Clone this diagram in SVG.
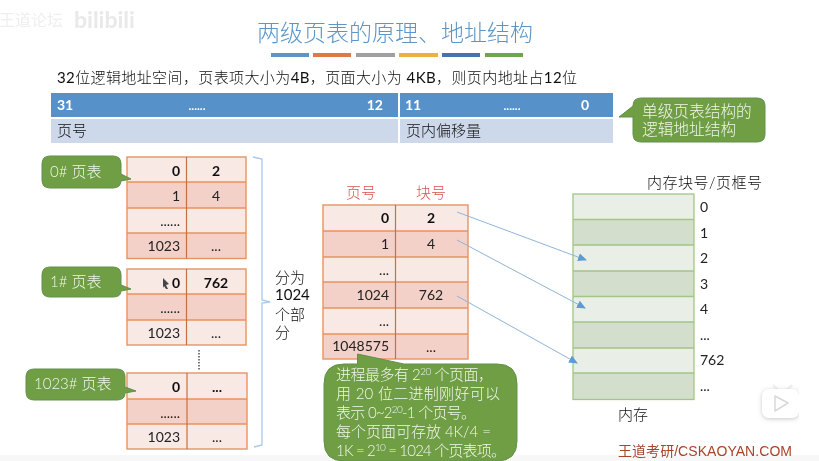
<svg xmlns="http://www.w3.org/2000/svg" width="819" height="461" viewBox="0 0 819 461">
<style>
text{font-family:"Lato","Noto Sans CJK SC",sans-serif;font-size:14px;fill:#222}
.cj{font-weight:300;font-size:15px;fill:#111}
.l{font-weight:400}
.b{font-weight:700;fill:#111}
.m{text-anchor:middle}
.e{text-anchor:end}
.w{fill:#f2f6ec;font-weight:300;font-size:15px}
.wb{fill:#fff;font-weight:700}
.red{fill:#d9534f;font-size:15px;font-weight:300}
.g{fill:#6f9e45;stroke:#62904a;stroke-width:1}
.r1{fill:#f8e9e5}
.r2{fill:#f3d1c8}
.tb{fill:none;stroke:#e8935f;stroke-width:1.4}
.tl{stroke:#e8935f;stroke-width:1.4}
.tv{stroke:#c8703c;stroke-width:1.2}
.m1{fill:#e9efe6}
.m2{fill:#d3dfcc}
.ml{stroke:#a3c585;stroke-width:1.3;fill:none}
.cn{stroke:#8fb4d8;stroke-width:1;fill:none;marker-end:url(#ah)}
</style>
<defs>
<marker id="ah" markerUnits="userSpaceOnUse" markerWidth="9" markerHeight="8" refX="8" refY="4" orient="auto"><path d="M0 0L9 4L0 8z" fill="#5b9bd5"/></marker>
<filter id="sh" x="-20%" y="-20%" width="140%" height="150%"><feDropShadow dx="0" dy="1" stdDeviation="2" flood-color="#999" flood-opacity=".55"/></filter>
<filter id="soft" x="0" y="0" width="100%" height="100%"><feGaussianBlur stdDeviation="0.35"/></filter>
</defs>
<rect width="819" height="461" fill="#fff"/>
<rect y="455" width="819" height="6" fill="#f7f7f7"/>
<g filter="url(#soft)">
<g id="watermark">
<text x="-1" y="26" style="font-size:16px;fill:#efefef">王道论坛</text>
<text x="74" y="28" style="font-size:23px;font-weight:700;fill:#e9e9e9">bilibili</text>
</g>
<g id="title">
<text x="395" y="41" class="m" style="font-size:23px;fill:#5b96c8;font-weight:300">两级页表的原理、地址结构</text>
<rect x="271" y="53" width="38" height="4" fill="#5b96c8"/>
<rect x="313" y="53" width="38" height="4" fill="#dc7a45"/>
<rect x="356" y="53" width="39" height="4" fill="#a0a0a0"/>
<rect x="399" y="53" width="39" height="4" fill="#f0b040"/>
<rect x="442" y="53" width="38" height="4" fill="#4472b4"/>
<rect x="485" y="53" width="38" height="4" fill="#70a548"/>
</g>
<text id="subtitle" x="57" y="83" class="cj" textLength="520" lengthAdjust="spacing"><tspan class="l">32</tspan>位逻辑地址空间，页表项大小为<tspan class="l">4B</tspan>，页面大小为 <tspan class="l">4KB</tspan>，则页内地址占<tspan class="l">12</tspan>位</text>
<g id="address-structure">
<rect x="51" y="93" width="347" height="24" fill="#5792c9"/>
<rect x="400" y="93" width="213" height="24" fill="#5792c9"/>
<rect x="51" y="119" width="347" height="24" fill="#cdd9ea"/>
<rect x="400" y="119" width="213" height="24" fill="#cdd9ea"/>
<text x="57" y="110" class="wb">31</text>
<text x="197" y="110" class="wb m" style="font-size:12px">......</text>
<text x="383" y="110" class="wb e">12</text>
<text x="405" y="110" class="wb">11</text>
<text x="512" y="110" class="wb m" style="font-size:12px">......</text>
<text x="589" y="110" class="wb e">0</text>
<text x="57" y="136" class="cj">页号</text>
<text x="406" y="136" class="cj">页内偏移量</text>
</g>
<g id="callout-single">
<path class="g" d="M641 98H757Q765 98 765 106V134Q765 142 757 142H641Q633 142 633 134V117H619L633 106Q633 98 641 98Z"/>
<text x="642" y="117" class="w" style="font-size:15.700px">单级页表结构的</text>
<text x="642" y="135" class="w" style="font-size:15.700px">逻辑地址结构</text>
</g>
<g id="table-0">
<rect class="r1" x="127" y="157" width="119" height="25"/><rect class="r2" x="127" y="182" width="119" height="26"/><rect class="r1" x="127" y="208" width="119" height="25"/><rect class="r2" x="127" y="233" width="119" height="25"/>
<rect class="tb" x="127" y="157" width="119" height="101.500"/>
<path class="tl" d="M127 182H246M127 208H246M127 233H246"/><path class="tv" d="M186.500 157V258.500"/>
<text x="180" y="176" class="e b">0</text><text x="216" y="176" class="m b">2</text>
<text x="180" y="201" class="e">1</text><text x="216" y="201" class="m">4</text>
<text x="180" y="226" class="e">......</text>
<text x="180" y="251" class="e">1023</text><text x="216" y="251" class="m">...</text>
</g>
<g id="callout-0">
<path class="g" d="M50 156H113Q121 156 121 164V174L131 179L121 181V180Q121 188 113 188H50Q42 188 42 180V164Q42 156 50 156Z"/>
<text x="50" y="177" class="w">0# 页表</text>
</g>
<g id="table-1">
<rect class="r1" x="127" y="269" width="119" height="25"/><rect class="r2" x="127" y="294" width="119" height="26"/><rect class="r1" x="127" y="320" width="119" height="25"/>
<rect class="tb" x="127" y="269" width="119" height="76"/>
<path class="tl" d="M127 294H246M127 320H246"/><path class="tv" d="M186.500 269V345"/>
<text x="180" y="288" class="e b">0</text><text x="216" y="288" class="m b">762</text>
<text x="180" y="313" class="e">......</text>
<text x="180" y="338" class="e">1023</text><text x="216" y="338" class="m">...</text>
</g>
<g id="callout-1">
<path class="g" d="M50 267H113Q121 267 121 275V285L131 289L121 291Q121 297 113 297H50Q42 297 42 289V275Q42 267 50 267Z"/>
<text x="50" y="287" class="w">1# 页表</text>
</g>
<path id="cursor" d="M163 278L169 284L166 285L168 289L166 289L164 286L163 288Z" fill="#444"/>
<path id="dots" d="M199 350V370" stroke="#444" stroke-width="1.400" stroke-dasharray="1.500 1.500" fill="none"/>
<g id="table-1023">
<rect class="r1" x="127" y="373" width="120" height="26"/><rect class="r2" x="127" y="399" width="120" height="25"/><rect class="r1" x="127" y="424" width="120" height="25"/>
<rect class="tb" x="127" y="373" width="120" height="76"/>
<path class="tl" d="M127 399H247M127 424H247"/><path class="tv" d="M187 373V449"/>
<text x="180" y="392" class="e b">0</text><text x="217" y="392" class="m b">...</text>
<text x="180" y="418" class="e">......</text>
<text x="180" y="442" class="e">1023</text><text x="217" y="442" class="m">...</text>
</g>
<g id="callout-1023">
<path class="g" d="M34 369H117Q125 369 125 377V387L136 391L125 393Q125 400 117 400H34Q26 400 26 392V377Q26 369 34 369Z"/>
<text x="34" y="389" class="w">1023# 页表</text>
</g>
<g id="brace">
<path d="M253 157L262 159V300L270 302L262 303V445L254 447" fill="none" stroke="#a9c9e6" stroke-width="1.300"/>
<text x="275" y="283" class="cj">分为</text>
<text x="275" y="300" class="cj l">1024</text>
<text x="275" y="320" class="cj">个部</text>
<text x="275" y="338" class="cj">分</text>
</g>
<g id="page-table">
<text x="361" y="198" class="m red">页号</text>
<text x="431" y="198" class="m red">块号</text>
<rect class="r1" x="323" y="205" width="145" height="26"/><rect class="r2" x="323" y="231" width="145" height="26"/><rect class="r1" x="323" y="257" width="145" height="25"/><rect class="r2" x="323" y="282" width="145" height="26"/><rect class="r1" x="323" y="308" width="145" height="26"/><rect class="r2" x="323" y="334" width="145" height="25"/>
<rect class="tb" x="323" y="205" width="145" height="154"/>
<path class="tl" d="M323 231H468M323 257H468M323 282H468M323 308H468M323 334H468"/><path class="tv" d="M395.500 205V359"/>
<text x="389" y="223" class="e b">0</text><text x="431" y="223" class="m b">2</text>
<text x="389" y="249" class="e">1</text><text x="431" y="249" class="m">4</text>
<text x="389" y="275" class="e">...</text>
<text x="389" y="300" class="e">1024</text><text x="431" y="300" class="m">762</text>
<text x="389" y="326" class="e">...</text>
<text x="389" y="351" class="e">1048575</text><text x="431" y="352" class="m">...</text>
</g>
<g id="callout-process">
<path class="g" d="M344 364H357.500V354L404 364H497Q517 364 517 384V441Q517 461 497 461H344Q324 461 324 441V384Q324 364 344 364Z"/>
<text x="336" y="380" class="w" textLength="157">进程最多有 2<tspan dy="-5" style="font-size:10px">20</tspan><tspan dy="5"> 个页面，</tspan></text>
<text x="336" y="399" class="w" textLength="164">用 20 位二进制刚好可以</text>
<text x="336" y="418" class="w" textLength="140">表示 0~2<tspan dy="-5" style="font-size:10px">20</tspan><tspan dy="5">-1 个页号。</tspan></text>
<text x="336" y="437" class="w" textLength="155">每个页面可存放 4K/4 =</text>
<text x="336" y="456" class="w" textLength="170">1K = 2<tspan dy="-5" style="font-size:10px">10</tspan><tspan dy="5"> = 1024 个页表项。</tspan></text>
</g>
<g id="memory">
<text x="647" y="188" class="cj" textLength="115">内存块号/页框号</text>
<rect class="m1" x="573" y="194" width="121" height="25.500"/><rect class="m2" x="573" y="219.500" width="121" height="25.500"/><rect class="m1" x="573" y="245" width="121" height="26"/><rect class="m2" x="573" y="271" width="121" height="25.500"/><rect class="m1" x="573" y="296.500" width="121" height="25.500"/><rect class="m2" x="573" y="322" width="121" height="26"/><rect class="m1" x="573" y="348" width="121" height="25"/><rect class="m2" x="573" y="373" width="121" height="26.500"/>
<rect class="ml" x="573" y="194" width="121" height="205.500"/>
<path class="ml" d="M573 219.500H694M573 245H694M573 271H694M573 296.500H694M573 322H694M573 348H694M573 373H694"/>
<text x="700" y="212">0</text><text x="700" y="238">1</text><text x="700" y="263">2</text><text x="700" y="289">3</text><text x="700" y="314">4</text><text x="700" y="340">...</text><text x="700" y="365">762</text><text x="700" y="391">...</text>
<text x="633" y="420" class="m cj">内存</text>
</g>
<g id="connectors">
<path class="cn" d="M457 212L586 260"/>
<path class="cn" d="M457 240L585 308"/>
<path class="cn" d="M457 296L577 363"/>
</g>
<text id="footer" x="618" y="456" textLength="174" style="font-family:'Liberation Sans','Noto Sans CJK SC',sans-serif;font-size:14px;fill:#a8432a">王道考研/CSKAOYAN.COM</text>
<g id="play-button">
<path d="M773 385L778 390M787 390L792 385" stroke="#f0f0f0" stroke-width="2.500" fill="none"/>
<rect x="762" y="389" width="37" height="29" rx="7" fill="#fff" filter="url(#sh)"/>
<path d="M775 396L788 403L775 411Z" fill="#fff" stroke="#d9d9d9" stroke-width="1.500" stroke-linejoin="round"/>
</g>
</g>
</svg>
